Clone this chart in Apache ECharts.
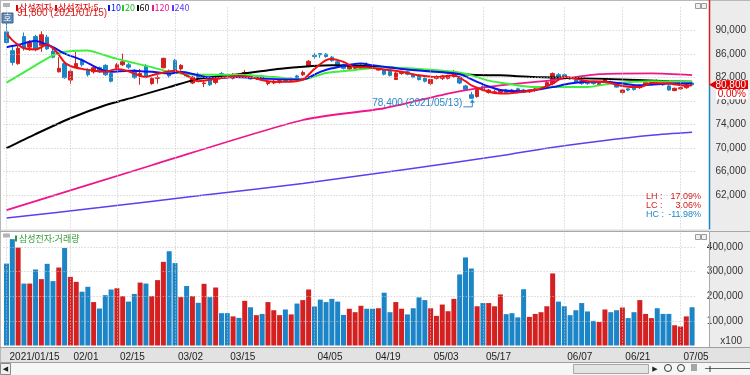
<!DOCTYPE html>
<html><head><meta charset="utf-8">
<script src="https://cdn.jsdelivr.net/npm/echarts@6/dist/echarts.min.js"></script>
<style>html,body{margin:0;padding:0;background:#fff}#c{width:750px;height:375px}</style>
</head><body><div id="c"></div>
<script>
const categories = ['2021/01/15','2021/01/18','2021/01/19','2021/01/20','2021/01/21','2021/01/22','2021/01/25','2021/01/26','2021/01/27','2021/01/28','2021/01/29',
'2021/02/01','2021/02/02','2021/02/03','2021/02/04','2021/02/05','2021/02/08','2021/02/09','2021/02/10','2021/02/15','2021/02/16','2021/02/17','2021/02/18','2021/02/19',
'2021/02/22','2021/02/23','2021/02/24','2021/02/25','2021/02/26','2021/03/02','2021/03/03','2021/03/04','2021/03/05','2021/03/08','2021/03/09','2021/03/10','2021/03/11','2021/03/12',
'2021/03/15','2021/03/16','2021/03/17','2021/03/18','2021/03/19','2021/03/22','2021/03/23','2021/03/24','2021/03/25','2021/03/26','2021/03/29','2021/03/30','2021/03/31',
'2021/04/01','2021/04/02','2021/04/05','2021/04/06','2021/04/07','2021/04/08','2021/04/09','2021/04/12','2021/04/13','2021/04/14','2021/04/15','2021/04/16',
'2021/04/19','2021/04/20','2021/04/21','2021/04/22','2021/04/23','2021/04/26','2021/04/27','2021/04/28','2021/04/29','2021/04/30',
'2021/05/03','2021/05/04','2021/05/06','2021/05/07','2021/05/10','2021/05/11','2021/05/12','2021/05/13','2021/05/14','2021/05/17','2021/05/18','2021/05/20','2021/05/21',
'2021/05/24','2021/05/25','2021/05/26','2021/05/27','2021/05/28','2021/05/31','2021/06/01','2021/06/02','2021/06/03','2021/06/04',
'2021/06/07','2021/06/08','2021/06/09','2021/06/10','2021/06/11','2021/06/14','2021/06/15','2021/06/16','2021/06/17','2021/06/18',
'2021/06/21','2021/06/22','2021/06/23','2021/06/24','2021/06/25','2021/06/28','2021/06/29','2021/06/30','2021/07/01','2021/07/02','2021/07/05','2021/07/06','2021/07/07'];

const opens = [89800,86600,84400,89000,87200,89000,87500,88900,86500,83000,
84400,81600,83800,85000,83300,83000,83700,84100,82700,83700,
84200,84200,83300,82300,84000,81000,81900,83700,83100,84900,
83500,82700,81100,82600,81000,82000,81200,82700,82400,81900,
82600,82800,82400,81900,82300,81000,81100,81200,81600,81600,
82300,82500,84000,85800,86100,86000,85500,84700,84200,83500,
83600,83600,84300,84000,83300,83300,83100,81700,82700,83000,
82500,82400,81900,81000,81900,81900,81900,82200,82100,80600,
79100,78800,80500,79500,79400,79500,79900,79900,80100,79900,
79600,79800,80100,80400,81000,82500,82500,82000,81600,81300,
81200,81300,80800,81400,81300,80800,79500,80100,80200,80300,
80900,81200,81500,81100,80600,79800,80100,80300,81100];
const highs = [91800,87300,87500,89700,88400,89300,89900,89300,86900,85500,
84600,83400,86400,85300,83600,84000,83900,84300,82900,84500,
86100,84500,83500,83500,84300,82100,82400,85400,83400,85200,
84300,83000,82300,82900,81600,82100,82200,83000,82700,82800,
82800,83300,82600,82300,82500,81500,81600,81700,81800,82000,
82500,83200,85000,86200,86200,86200,85700,84900,84400,84200,
84300,84400,84600,84200,83900,83500,83200,83000,83200,83200,
82700,82600,82100,81800,82400,82500,82500,83300,82300,80800,
79600,80300,80700,80100,79900,80000,80100,80100,80300,80100,
80000,80200,80600,81500,82900,82800,82700,82200,81800,81500,
81400,81500,81200,81900,81500,81000,80000,80300,80400,80800,
81400,81600,81700,81300,80800,80300,80500,81000,81400];
const lows = [87800,84100,84200,86600,86600,86500,86400,86700,85300,82900,
81800,80900,83700,83900,82200,82700,82800,82300,81200,83400,
84000,83500,81800,80800,81900,80800,81000,83600,82000,83000,
83200,82100,80900,81700,80400,80600,80900,82200,81900,81700,
82000,82300,81700,81600,81700,80700,80900,81000,81200,81400,
81700,82300,83800,85200,85400,85400,84700,83800,83400,83300,
83400,83400,83700,83400,83200,82400,82200,81600,82500,82400,
81900,81500,81200,80800,81700,81600,81700,82000,80900,79800,
78400,78600,79700,79300,79200,79300,79400,79600,79500,79400,
79400,79600,79900,80300,80700,81900,81900,81600,81100,80800,
80800,80800,80600,81200,80900,80300,79300,79700,79800,80100,
80700,81000,81100,80600,79800,79700,79900,80100,80700];
const closes = [88000,84600,87000,87000,88000,86900,89300,86900,85500,83600,
82000,83100,84400,84200,82500,83700,83000,82500,81400,84200,
84700,83800,82000,82700,82100,81900,82000,85300,82300,83300,
84100,82300,82100,81900,81100,80800,82000,82400,82100,82500,
82300,82900,81800,82100,81900,81200,81300,81500,81500,81900,
81800,82900,84800,85600,85900,85600,84900,84000,83600,84000,
84000,84100,83900,83700,83600,82600,82400,82800,82900,82600,
82100,81700,81400,81700,82100,82300,82200,82900,81100,80000,
78500,80000,79900,79900,79600,79800,79500,79800,79600,79500,
79900,80100,80400,81200,82700,82100,82100,81800,81300,81000,
81000,81000,81000,81700,81100,80400,79900,79900,80000,80700,
81200,81400,81300,80800,79900,80200,80300,80800,80800];
// volume in units of x100 shares
const volumes = [332000,431000,397000,251000,251000,308000,269000,331000,261000,316000,
395000,278000,258000,218000,238000,176000,150000,204000,227000,232000,
200000,178000,209000,255000,251000,200000,265000,339000,382000,334000,
196000,241000,200000,173000,250000,196000,235000,131000,131000,118000,
112000,181000,155000,123000,128000,176000,143000,123000,146000,126000,
170000,184000,227000,158000,186000,176000,189000,178000,124000,149000,
135000,161000,149000,149000,151000,214000,135000,176000,149000,126000,
151000,195000,184000,151000,120000,166000,139000,189000,288000,357000,
312000,159000,172000,172000,159000,207000,127000,131000,114000,228000,
116000,128000,135000,159000,292000,178000,159000,123000,143000,172000,
138000,100000,95000,146000,135000,143000,154000,111000,135000,184000,
128000,111000,151000,128000,128000,82000,77000,118000,155000];

// moving averages: [bar number (1-based), value]
const ma5Pts = [[1,89500],[2,88400],[3,87600],[4,87000],[6,86800],[7,87200],[8,87700],[9,87000],[10,85900],[11,84600],[12,84000],[14,83500],[16,83200],[18,83000],[20,83500],[22,83100],[23,82700],[25,82100],[26,82400],[28,82900],[30,83200],[32,82400],[34,81400],[37,81800],[39,82100],[41,82300],[43,82100],[46,81400],[49,81300],[52,81700],[54,83500],[56,85000],[57,85200],[59,84700],[61,83800],[63,83800],[66,83400],[69,83000],[72,82400],[75,82100],[78,82400],[80,81400],[81,80700],[84,79600],[86,79300],[89,79500],[92,79900],[95,81000],[97,82100],[99,81800],[101,81400],[104,81300],[107,80600],[110,80400],[112,81100],[115,81000],[118,80600],[119,80700]];
const ma10Pts = [[1,87200],[3,87600],[6,88300],[7,88000],[9,87200],[11,86100],[14,85000],[17,83500],[19,83000],[22,83200],[26,83000],[29,82700],[31,83000],[34,82400],[37,81900],[40,82100],[46,81800],[52,81700],[55,83000],[57,83600],[62,84400],[64,84100],[69,83500],[75,83000],[79,82600],[82,81300],[84,80500],[86,79900],[89,79700],[92,79900],[95,80400],[98,81000],[101,81300],[104,81300],[107,81000],[110,80700],[112,80800],[115,81000],[119,81000]];
const ma20Pts = [[1,81150],[6,84100],[9,85800],[11,86400],[15,86650],[17,86100],[20,85200],[26,83800],[29,83000],[34,82500],[41,82500],[47,82100],[52,81700],[56,82800],[61,83300],[66,83800],[72,83500],[78,83000],[81,82400],[84,81500],[87,81000],[92,80400],[101,80400],[105,81000],[112,81400],[119,81300]];
const ma60Pts = [[1,70000],[6,72400],[12,75100],[18,77300],[23,78700],[29,80400],[34,81800],[41,82600],[49,83600],[57,84100],[66,83800],[75,83100],[81,82500],[86,82400],[92,82100],[104,81800],[115,81400],[119,81300]];
const ma120Pts = [[1,59450],[26,67100],[52,74800],[66,76800],[78,79500],[86,80700],[95,81600],[103,82600],[112,82750],[119,82450]];
const ma240Pts = [[1,58100],[17,59900],[34,61900],[52,64000],[69,66300],[86,68700],[94,70000],[103,71200],[112,72200],[119,72700]];

const priceTicks = [62000,66000,70000,74000,78000,82000,86000,90000];
const volumeTicks = [100000,200000,300000,400000];
const tickDates = ['2021/01/15','2021/02/01','2021/02/15','2021/03/02','2021/03/15','2021/04/05','2021/04/19','2021/05/03','2021/05/17','2021/06/07','2021/06/21','2021/07/05'];

const RED = '#d42020', BLUE = '#1c85c7';
const NUM_FONT = '"Liberation Sans","DejaVu Sans",sans-serif';
const KR_FONT = '"Noto Sans CJK KR","Noto Sans",sans-serif';
const fmt = v => v.toLocaleString('en-US');

const chart = echarts.init(document.getElementById('c'), null, {renderer: 'canvas'});
const candleData = categories.map((_, i) => [opens[i], closes[i], lows[i], highs[i]]);
const volData = volumes.map((v, i) => ({value: v, itemStyle: {color: closes[i] >= opens[i] ? RED : BLUE}}));
const toSeries = pts => pts.map(([b, v]) => [b - 1, v]);
const maDefs = [
  {pts: ma240Pts, color: '#5b3ff0', width: 1.5},
  {pts: ma120Pts, color: '#f0158a', width: 1.8},
  {pts: ma60Pts, color: '#000000', width: 2},
  {pts: ma20Pts, color: '#3cf03c', width: 2},
  {pts: ma10Pts, color: '#0a14f0', width: 2},
  {pts: ma5Pts, color: '#f01010', width: 2}
];
const gridLineStyle = {color: '#c4c4c4', type: [1, 2], width: 1};
const tickSet = new Set(tickDates);

const option = {
  animation: false,
  backgroundColor: '#ffffff',
  grid: [
    {left: 3.6, width: 691.4, top: 7.2, height: 223.25},
    {left: 3.6, width: 691.4, top: 232, height: 113.5}
  ],
  xAxis: [
    {type: 'category', gridIndex: 0, data: categories, boundaryGap: true, show: false},
    {type: 'category', gridIndex: 1, data: categories, boundaryGap: true,
     axisLine: {show: false}, axisTick: {show: false}, splitLine: {show: false},
     axisLabel: {show: true, interval: (i, v) => tickSet.has(v),
       formatter: v => v === categories[0] ? v : v.slice(5),
       align: 'left', padding: [0, 0, 0, 3], margin: 7, fontSize: 10, fontFamily: NUM_FONT, color: '#222'}}
  ],
  yAxis: [
    {type: 'value', gridIndex: 0, position: 'right', min: 56000, max: 94000, interval: 2000,
     axisLine: {show: false}, axisTick: {show: false}, splitLine: {show: false},
     axisLabel: {align: 'right', margin: 51, fontSize: 10, fontFamily: NUM_FONT, color: '#333',
       formatter: v => priceTicks.includes(v) ? fmt(v) : ''}},
    {type: 'value', gridIndex: 1, position: 'right', min: 0, max: 460000, interval: 100000,
     axisLine: {show: false}, axisTick: {show: false}, splitLine: {show: false},
     axisLabel: {align: 'right', margin: 48, fontSize: 10, fontFamily: NUM_FONT, color: '#333',
       formatter: v => volumeTicks.includes(v) ? fmt(v) : ''}}
  ],
  series: [
    {type: 'line', xAxisIndex: 0, yAxisIndex: 0, data: categories.map(() => null), z: 1, silent: true,
     markLine: {silent: true, symbol: ['none', 'none'], label: {show: false}, lineStyle: gridLineStyle,
       data: [...priceTicks.map(v => ({yAxis: v})), ...tickDates.map(d => ({xAxis: d}))]}},
    {type: 'candlestick', xAxisIndex: 0, yAxisIndex: 0, data: candleData, barWidth: 4, z: 2,
     itemStyle: {color: RED, color0: BLUE, borderColor: RED, borderColor0: BLUE, borderWidth: 1}},
    ...maDefs.map(m => ({type: 'line', xAxisIndex: 0, yAxisIndex: 0, data: toSeries(m.pts), smooth: 0.25,
      showSymbol: false, symbol: 'none', z: 3, lineStyle: {color: m.color, width: m.width}})),
    {type: 'line', xAxisIndex: 1, yAxisIndex: 1, data: categories.map(() => null), z: 1, silent: true,
     markLine: {silent: true, symbol: ['none', 'none'], label: {show: false}, lineStyle: gridLineStyle,
       data: [...volumeTicks.map(v => ({yAxis: v})), ...tickDates.map(d => ({xAxis: d}))]}},
    {type: 'bar', xAxisIndex: 1, yAxisIndex: 1, data: volData, barWidth: 5, z: 2}
  ]
};
chart.setOption(option);

const px = (i, v) => chart.convertToPixel({xAxisIndex: 0, yAxisIndex: 0}, [i, v]);
const n = closes.length;
const last = closes[n - 1], prev = closes[n - 2];
const yLast = px(n - 1, last)[1];
let hiIdx = 0, loIdx = 0;
highs.forEach((h, i) => { if (h > highs[hiIdx]) hiIdx = i; });
lows.forEach((l, i) => { if (l < lows[loIdx]) loIdx = i; });
const maxH = highs[hiIdx], minL = lows[loIdx];
const [hx, hy] = px(hiIdx, maxH);
const [lx, ly] = px(loIdx, minL);
const chg = ((last - prev) / prev * 100).toFixed(2) + '%';
const LH = ((maxH / minL - 1) * 100).toFixed(2) + '%';
const LC = ((last / minL - 1) * 100).toFixed(2) + '%';
const HC = ((last / maxH - 1) * 100).toFixed(2) + '%';

const T = (text, x, y, fill, font, align = 'left', z = 50) => ({type: 'text', x, y, z,
  style: {text, fill, font, align, verticalAlign: 'middle', textAlign: align, textVerticalAlign: 'middle'}});
const R = (x, y, w, h, fill, stroke, z = 45) => ({type: 'rect', z, shape: {x, y, width: w, height: h},
  style: {fill, stroke: stroke || null, lineWidth: 1}});
const L = (x1, y1, x2, y2, stroke, lw = 1, z = 40) => ({type: 'line', z, shape: {x1, y1, x2, y2}, style: {stroke, lineWidth: lw}});
const f10 = '10px ' + NUM_FONT;
const f9 = '9px ' + NUM_FONT;
const k9 = '9px ' + KR_FONT;

const g = [
  R(710, 0, 40, 347, '#ececec', null, -10),
  R(0, 347, 750, 16, '#e2e2e2', null, -10),
  R(0, 363, 750, 12, '#f6f6f6', null, -10),
  R(0, 229.5, 709, 2, '#dcdcdc', null, 40),
  L(0, 0.5, 750, 0.5, '#b8b8b8'),
  L(0.5, 0, 0.5, 363, '#b8b8b8'),
  L(0, 231.5, 750, 231.5, '#a8a8a8'),
  L(0, 347.5, 750, 347.5, '#a0a0a0'),
  L(0, 362.5, 750, 362.5, '#a0a0a0'),
  L(709.5, 0, 709.5, yLast, RED, 1.5),
  L(709.5, yLast, 709.5, 229.5, BLUE, 1.5),
  L(709.5, 232, 709.5, 347, '#a8a8a8'),
  // current price box
  {type: 'polygon', z: 60, shape: {points: [[709, yLast], [717, yLast - 4.5], [717, yLast + 4.5]]}, style: {fill: '#e00000'}},
  R(716, yLast - 4.5, 32, 9, '#e00000', null, 60),
  T(fmt(last), 746, yLast, '#ffffff', f10, 'right', 61),
  R(716, yLast + 4.5, 32, 10, '#ffffff', null, 60),
  T(chg, 746, yLast + 9, '#e00000', f10, 'right', 61),
  // LH / LC / HC
  T('LH :', 646, 197, RED, f9), T(LH, 701, 197, RED, f9, 'right'),
  T('LC :', 646, 206, RED, f9), T(LC, 701, 206, RED, f9, 'right'),
  T('HC :', 646, 215, BLUE, f9), T(HC, 701, 215, BLUE, f9, 'right'),
  // high / low annotations
  T(fmt(maxH) + ' (' + categories[hiIdx] + ')', hx + 10.5, hy - 7, RED, f10),
  T(fmt(minL) + ' (' + categories[loIdx] + ')', lx - 9, ly + 4.6, '#2a88c8', f10, 'right'),
  {type: 'polyline', z: 50, shape: {points: [[lx - 8, ly + 8], [lx + 1, ly + 8], [lx + 1, ly + 2]]}, style: {stroke: '#2a88c8', fill: null, lineWidth: 1}},
  {type: 'polygon', z: 50, shape: {points: [[lx + 1, ly + 0.5], [lx - 1.5, ly + 4], [lx + 3.5, ly + 4]]}, style: {fill: '#2a88c8'}},
  // 호 box
  R(2, 13, 11, 10, '#6187b5', '#3f628f', 55),
  T('호', 7.5, 18, '#ffffff', k9, 'center', 56),
  // legend
  R(3, 3, 7, 4, '#b4b4b4', null),
  R(16, 5, 2, 6, '#e00000'), T('삼성전자', 19, 8, '#e00000', k9),
  R(55, 5, 2, 6, '#e00000'), T('삼성전자:5', 58, 8, '#e00000', k9),
  R(108, 5, 2, 6, '#0a14f0'), T('10', 111, 8, '#0a14f0', k9),
  R(122, 5, 2, 6, '#22cc22'), T('20', 125, 8, '#22bb22', k9),
  R(137, 5, 2, 6, '#000000'), T('60', 139.5, 8, '#000000', k9),
  R(152, 5, 2, 6, '#f0158a'), T('120', 154.5, 8, '#f0158a', k9),
  R(172, 5, 2, 6, '#5b3ff0'), T('240', 174.5, 8, '#5b3ff0', k9),
  R(3, 233.5, 7, 4, '#b4b4b4', null),
  R(15, 235.5, 2, 6, '#2f9a2f'), T('삼성전자:거래량', 19, 238.5, '#2f9a2f', k9),
  // panel icons
  R(695.5, 3.5, 5, 5, '#f0f0f0', '#9a9a9a'), R(701.5, 3.5, 5, 5, '#f0f0f0', '#9a9a9a'),
  R(695.5, 234.5, 5, 5, '#f0f0f0', '#9a9a9a'), R(701.5, 234.5, 5, 5, '#f0f0f0', '#9a9a9a'),
  T('x100', 742, 341, '#333333', f10, 'right'),
  // scroll bar
  R(0.5, 363.5, 10, 11, '#f0f0f0', '#8a8a8a'),
  T('◀', 5.5, 369, '#222222', '7px ' + NUM_FONT, 'center'),
  R(573.5, 364.5, 75, 9, '#e4e4e4', '#a8a8a8'),
  T('▶', 655, 369, '#222222', '7px ' + NUM_FONT, 'center'),
  {type: 'circle', z: 50, shape: {cx: 668, cy: 368, r: 3.5}, style: {stroke: '#333', fill: null, lineWidth: 1}},
  {type: 'circle', z: 50, shape: {cx: 681, cy: 368, r: 3.5}, style: {stroke: '#333', fill: null, lineWidth: 1}},
  L(692, 364, 692, 371, '#555'), L(694, 364, 694, 371, '#555'), L(696, 364, 696, 371, '#555'),
  L(705, 368.5, 750, 368.5, '#666'), L(710, 366, 710, 372, '#333')
];
chart.setOption({graphic: {elements: g}});
</script>
</body></html>
